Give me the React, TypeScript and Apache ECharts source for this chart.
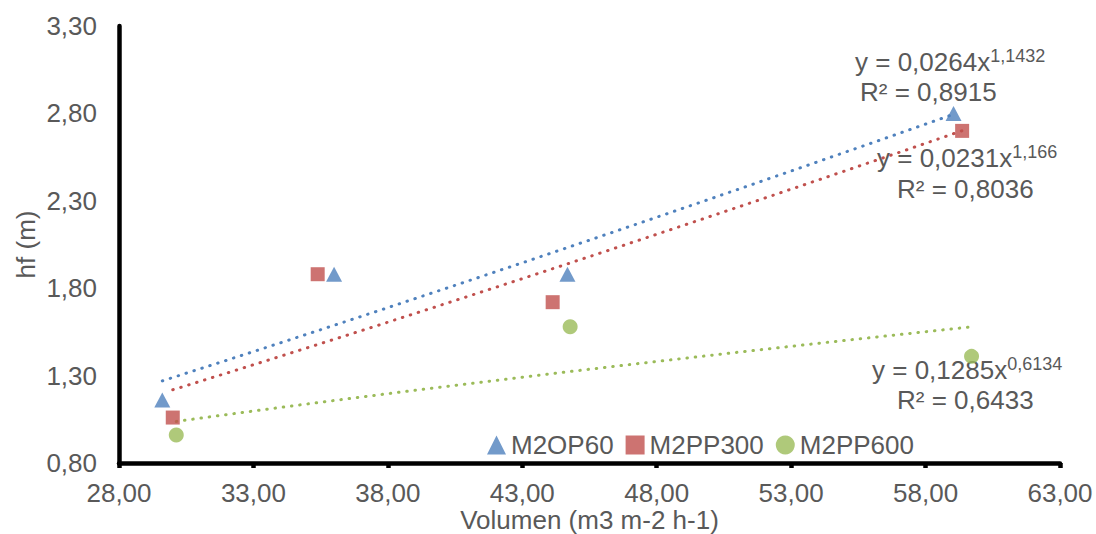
import React, { useEffect, useRef } from "react";
import * as echarts from "echarts";

// Tick values shown on the axes
const xTicks = [28, 33, 38, 43, 48, 53, 58, 63];
const yTicks = [0.8, 1.3, 1.8, 2.3, 2.8, 3.3];

// Measured points: [volumen, hf]
const m2op60: number[][] = [
  [29.61, 1.16],
  [36.0, 1.88],
  [44.68, 1.88],
  [59.04, 2.8],
];
const m2pp300: number[][] = [
  [30.0, 1.06],
  [35.39, 1.88],
  [44.13, 1.72],
  [59.36, 2.7],
];
const m2pp600: number[][] = [
  [30.13, 0.96],
  [44.78, 1.58],
  [59.71, 1.41],
];

// Power trendlines y = a·x^b and their R²
const seriesNames = ["M2OP60", "M2PP300", "M2PP600"];
const fitA = [0.0264, 0.0231, 0.1285];
const fitB = [1.1432, 1.166, 0.6134];
const fitR2 = [0.8915, 0.8036, 0.6433];

const colors = ["#4F81BD", "#C0504D", "#9BBB59"];
const textColor = "#595959";
const fontFamily = "'Liberation Sans', Arial, sans-serif";

const comma = (v: number) => String(v).replace(".", ",");
const fmt2 = (v: number) => v.toFixed(2).replace(".", ",");

// Evaluate a power fit across the x range of its own data
function powerCurve(data: number[][], a: number, b: number): number[][] {
  const xs = data.map((d) => d[0]);
  const lo = Math.min(...xs);
  const hi = Math.max(...xs);
  const steps = 40;
  const out: number[][] = [];
  for (let i = 0; i <= steps; i++) {
    const x = lo + ((hi - lo) * i) / steps;
    out.push([x, a * Math.pow(x, b)]);
  }
  return out;
}

// Equation label placement (left x, centre y of each line)
const eqPos = [
  { x1: 855, y1: 62, x2: 860, y2: 92 },
  { x1: 877, y1: 158, x2: 897, y2: 189 },
  { x1: 872, y1: 370, x2: 897, y2: 400 },
];

export default function App() {
  const ref = useRef<HTMLDivElement>(null);

  useEffect(() => {
    if (!ref.current) return;
    const chart = echarts.init(ref.current, undefined, { renderer: "svg" });
    const datasets = [m2op60, m2pp300, m2pp600];
    const symbols = ["triangle", "rect", "circle"];
    const symbolSizes: any[] = [[16, 15], 14, 15];

    const scatterSeries = datasets.map((d, i) => ({
      name: seriesNames[i],
      type: "scatter",
      data: d,
      symbol: symbols[i],
      symbolSize: symbolSizes[i],
      itemStyle: { color: colors[i] },
      z: 5,
    }));

    const fitSeries = datasets.map((d, i) => ({
      name: seriesNames[i] + " tendencia",
      type: "line",
      data: powerCurve(d, fitA[i], fitB[i]),
      showSymbol: false,
      symbol: "none",
      silent: true,
      smooth: false,
      lineStyle: {
        color: colors[i],
        width: 3,
        type: [0.5, 7.8],
        cap: "round",
      },
      z: 3,
    }));

    const graphics: any[] = [];
    eqPos.forEach((p, i) => {
      graphics.push({
        type: "text",
        x: p.x1,
        y: p.y1,
        silent: true,
        style: {
          text: `{m|y = ${comma(fitA[i])}x}{s|${comma(fitB[i])}}`,
          align: "left",
          verticalAlign: "middle",
          rich: {
            m: { fontSize: 26, lineHeight: 30, fill: textColor, fontFamily },
            s: {
              fontSize: 18,
              lineHeight: 28,
              verticalAlign: "top",
              fill: textColor,
              fontFamily,
            },
          },
        },
      });
      graphics.push({
        type: "text",
        x: p.x2,
        y: p.y2,
        silent: true,
        style: {
          text: `R² = ${comma(fitR2[i])}`,
          align: "left",
          verticalAlign: "middle",
          fontSize: 26,
          fontFamily,
          fill: textColor,
        },
      });
    });

    chart.setOption({
      animation: false,
      backgroundColor: "#ffffff",
      textStyle: { fontFamily, color: textColor },
      grid: {
        left: 119,
        right: 36,
        top: 26,
        bottom: 71,
        containLabel: false,
        outerBoundsMode: "none",
      },
      legend: {
        data: [
          { name: seriesNames[0], icon: "triangle" },
          { name: seriesNames[1], icon: "rect" },
          { name: seriesNames[2], icon: "circle" },
        ],
        left: 482,
        top: 427,
        itemWidth: 19,
        itemHeight: 19,
        itemGap: 12,
        textStyle: { fontSize: 26, color: textColor, lineHeight: 26, fontFamily },
      },
      xAxis: {
        type: "value",
        min: xTicks[0],
        max: xTicks[xTicks.length - 1],
        name: "Volumen (m3 m-2 h-1)",
        nameLocation: "middle",
        nameGap: 44,
        nameMoveOverlap: false,
        nameTextStyle: { fontSize: 26, color: textColor, fontFamily },
        axisLine: { show: true, lineStyle: { color: "#000000", width: 4.5 } },
        axisTick: {
          show: true,
          length: 5,
          inside: false,
          customValues: xTicks,
          lineStyle: { color: "#000000", width: 4.5 },
        },
        axisLabel: {
          customValues: xTicks,
          formatter: (v: number) => fmt2(v),
          fontSize: 26,
          color: textColor,
          margin: 17,
          fontFamily,
        },
        splitLine: { show: false },
      },
      yAxis: {
        type: "value",
        min: yTicks[0],
        max: yTicks[yTicks.length - 1],
        name: "hf (m)",
        nameLocation: "middle",
        nameGap: 80,
        nameMoveOverlap: false,
        nameTextStyle: { fontSize: 26, color: textColor, fontFamily },
        axisLine: { show: true, lineStyle: { color: "#000000", width: 4.5 } },
        axisTick: { show: false },
        axisLabel: {
          customValues: yTicks,
          formatter: (v: number) => fmt2(v),
          fontSize: 26,
          color: textColor,
          margin: 22,
          fontFamily,
        },
        splitLine: { show: false },
      },
      series: [...fitSeries, ...scatterSeries],
      graphic: graphics,
    });

    return () => {
      chart.dispose();
    };
  }, []);

  return (
    <div
      ref={ref}
      style={{ position: "fixed", left: 0, top: 0, width: 1096, height: 534 }}
    />
  );
}
